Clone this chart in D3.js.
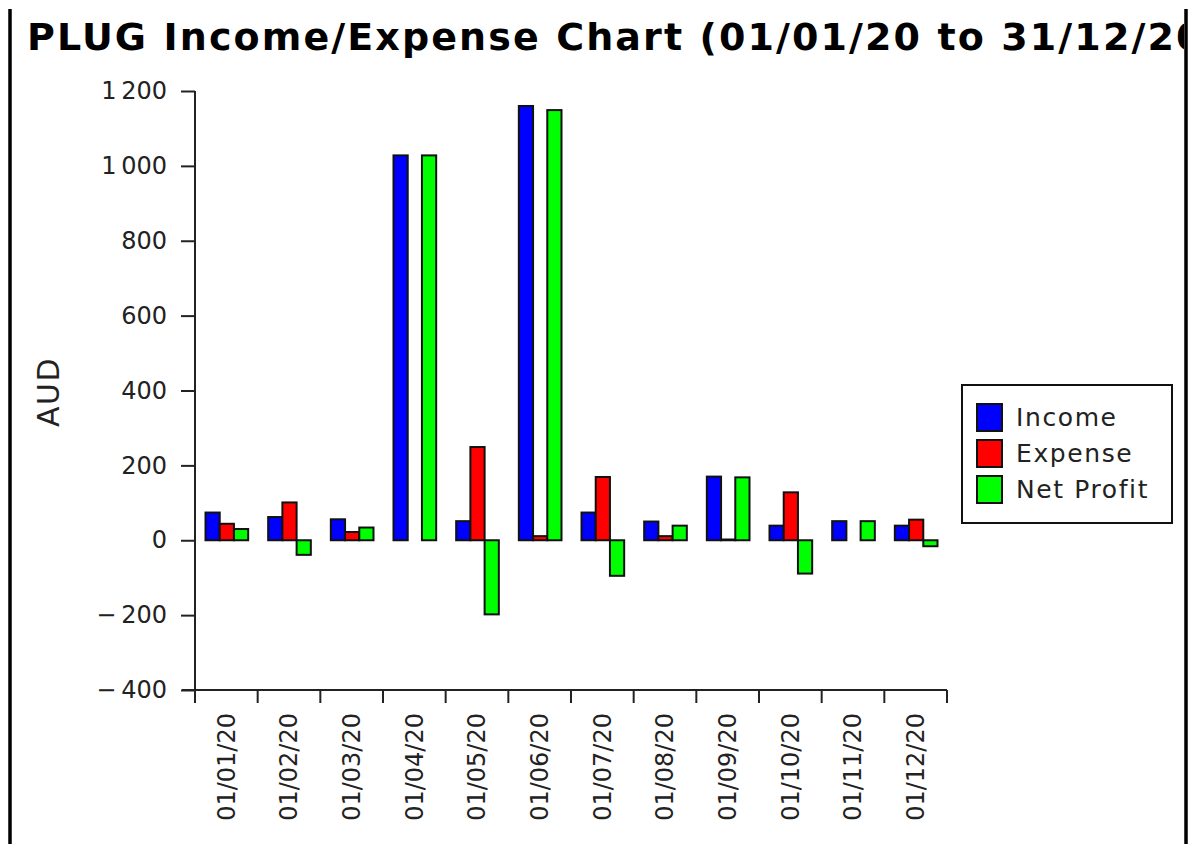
<!DOCTYPE html>
<html>
<head>
<meta charset="utf-8">
<script src="https://cdn.jsdelivr.net/npm/d3@7"></script>
<style>
  body { margin: 0; background: #fff; }
  svg { display: block; font-family: "DejaVu Sans", sans-serif; }
</style>
</head>
<body>
<svg id="chart" width="1189" height="844"></svg>
<script>
const categories = ["01/01/20","01/02/20","01/03/20","01/04/20","01/05/20","01/06/20","01/07/20","01/08/20","01/09/20","01/10/20","01/11/20","01/12/20"];
const income    = [74, 62, 56, 1028, 51, 1160, 74, 50, 170, 39, 51, 39];
const expense   = [44, 101, 22, 0, 249, 11, 169, 11, 2, 128, 0, 55];
const netProfit = [30, -39, 34, 1028, -198, 1149, -95, 39, 168, -89, 51, -16];
const seriesNames = ["Income", "Expense", "Net Profit"];
const seriesColors = ["#0000ff", "#ff0000", "#00ff00"];
const yTicks = [-400, -200, 0, 200, 400, 600, 800, 1000, 1200];
const titleText = "PLUG Income/Expense Chart (01/01/20 to 31/12/20)";
const yLabel = "AUD";

const svg = d3.select("#chart");
const W = 1189, H = 844;

svg.append("defs").append("clipPath").attr("id", "frameClip")
  .append("rect").attr("x", 0).attr("y", 0).attr("width", 1184).attr("height", H);

svg.append("line").attr("x1", 10).attr("x2", 10).attr("y1", 9).attr("y2", H)
  .attr("stroke", "#000").attr("stroke-width", 3.5);
svg.append("line").attr("x1", 1186).attr("x2", 1186).attr("y1", 9).attr("y2", H)
  .attr("stroke", "#000").attr("stroke-width", 3.5);

svg.append("text").attr("clip-path", "url(#frameClip)")
  .attr("x", 27).attr("y", 50)
  .attr("font-size", 38).attr("font-weight", "bold")
  .attr("letter-spacing", 2.1)
  .attr("fill", "#000")
  .text(titleText);

const x0 = 195, x1 = 947, yTop = 91, yBot = 690;
const x = d3.scaleBand().domain(categories).range([x0, x1]).paddingInner(0).paddingOuter(0);
const y = d3.scaleLinear().domain([-400, 1200]).range([yBot, yTop]);
const inner = d3.scaleBand().domain(d3.range(3)).range([10.5, x.bandwidth() - 9.5]).padding(0);

const locale = d3.formatLocale({decimal: ".", thousands: "\u2009", grouping: [3], currency: ["", ""], minus: "\u2212"});
const fmt = locale.format(",d");

const yAxis = svg.append("g").attr("transform", `translate(${x0},0)`)
  .call(d3.axisLeft(y).tickValues(yTicks).tickSize(14).tickSizeOuter(0).tickPadding(14).tickFormat(d => {
    const s = fmt(d);
    return d < 0 ? s.replace("\u2212", "\u2212\u2009") : s;
  }));
yAxis.select(".domain").attr("stroke", "#222").attr("stroke-width", 2).attr("d", `M0,${yTop}V${yBot + 13}`);
yAxis.selectAll(".tick line").attr("stroke", "#222").attr("stroke-width", 2);
yAxis.selectAll(".tick text").attr("font-size", 24).attr("fill", "#222")
  .attr("font-family", "DejaVu Sans, sans-serif");

const xAxis = svg.append("g").attr("transform", `translate(0,${yBot})`)
  .call(d3.axisBottom(x).tickSize(0).tickSizeOuter(0).tickFormat(d => d));
xAxis.select(".domain").attr("stroke", "#222").attr("stroke-width", 2).attr("d", `M${x0 - 13},0H${x1}`);
xAxis.selectAll(".tick text")
  .attr("font-size", 24).attr("fill", "#222").attr("font-family", "DejaVu Sans, sans-serif")
  .attr("transform", "rotate(-90)")
  .attr("text-anchor", "end").attr("x", -23).attr("y", 0).attr("dy", "0.35em");
const bounds = categories.map(c => x(c)).concat([x1]);
xAxis.selectAll(".btick").data(bounds).enter().append("line")
  .attr("x1", d => d).attr("x2", d => d).attr("y1", 0).attr("y2", 13)
  .attr("stroke", "#222").attr("stroke-width", 2);

svg.append("text")
  .attr("transform", "translate(59,392) rotate(-90)")
  .attr("text-anchor", "middle")
  .attr("font-size", 30).attr("fill", "#222").attr("letter-spacing", 1.5)
  .text(yLabel);

const series = [income, expense, netProfit];
const groups = svg.append("g").selectAll("g").data(categories).enter().append("g")
  .attr("transform", d => `translate(${x(d)},0)`);
groups.selectAll("rect").data((d, i) => series.map((s, k) => ({k, v: s[i]}))).enter().append("rect")
  .attr("x", d => inner(d.k))
  .attr("width", inner.bandwidth())
  .attr("y", d => y(Math.max(0, d.v)))
  .attr("height", d => Math.abs(y(d.v) - y(0)))
  .attr("fill", d => seriesColors[d.k])
  .attr("stroke", "#111").attr("stroke-width", 2);

const lg = svg.append("g");
lg.append("rect").attr("x", 962).attr("y", 385).attr("width", 210).attr("height", 138)
  .attr("fill", "#fff").attr("stroke", "#111").attr("stroke-width", 2);
const items = lg.selectAll(".item").data(seriesNames).enter().append("g")
  .attr("transform", (d, i) => `translate(977,${404 + i * 36})`);
items.append("rect").attr("width", 25).attr("height", 27)
  .attr("fill", (d, i) => seriesColors[i]).attr("stroke", "#111").attr("stroke-width", 2);
items.append("text").attr("x", 39).attr("y", 13.5).attr("dy", "0.35em")
  .attr("font-size", 25).attr("fill", "#222").attr("letter-spacing", 1.6)
  .text(d => d);
</script>
</body>
</html>
